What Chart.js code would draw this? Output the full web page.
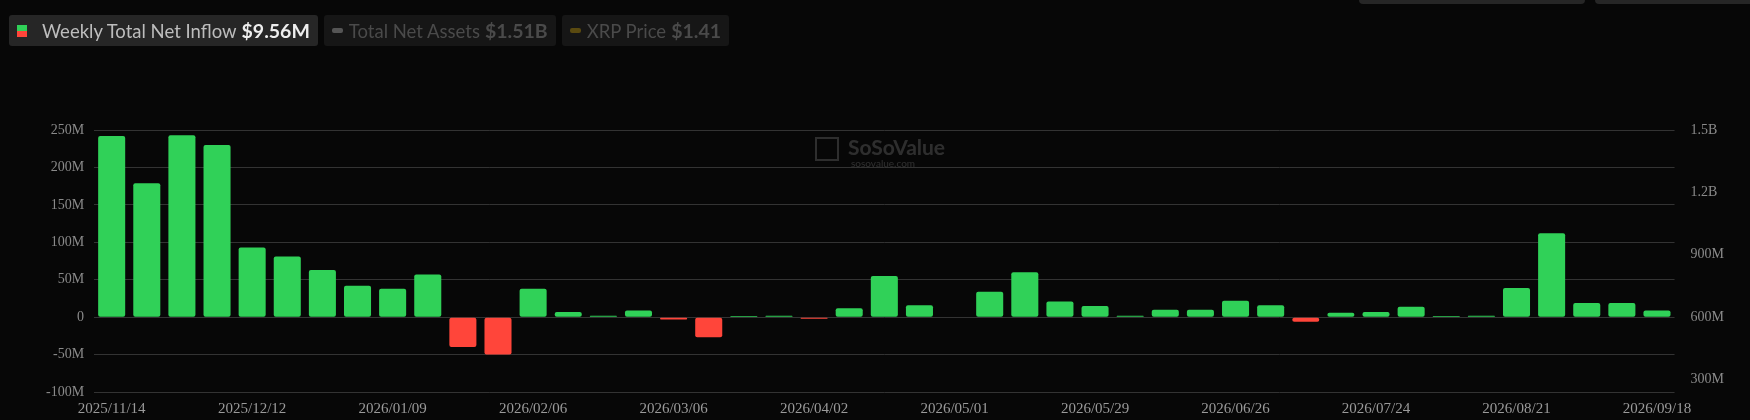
<!DOCTYPE html>
<html>
<head>
<meta charset="utf-8">
<script src="https://cdn.jsdelivr.net/npm/chart.js@4"></script>
<style>
  body { margin:0; background:#070707; width:1750px; height:420px; overflow:hidden; font-family:Lato, sans-serif; }
  #legend { position:absolute; top:15px; left:9px; display:flex; gap:6px; z-index:2; }
  .item { background:#262626; border-radius:3px; height:31px; display:flex; align-items:center; padding:0 8px; font-size:18.5px; color:#bdbdbd; }
  .item.off { background:#161616; color:#4a4a4a; }
  .item b { margin-left:5px; font-size:19.5px; }
  .sw { width:10px; height:12px; margin-right:15px; }
  .dash { width:11px; height:5px; border-radius:2px; margin-right:6px; }
  .btn { position:absolute; top:-6px; height:10px; background:#262626; border-radius:4px; }
  #wrap { position:absolute; left:0; top:0; width:1750px; height:420px; }
</style>
</head>
<body>
<div class="btn" style="left:1359px;width:226px"></div>
<div class="btn" style="left:1595px;width:200px"></div>
<div id="legend">
  <div class="item"><div class="sw" style="background:linear-gradient(#30d158 50%,#ff453a 50%)"></div>Weekly Total Net Inflow<b style="color:#eee">$9.56M</b></div>
  <div class="item off"><div class="dash" style="background:#555"></div>Total Net Assets<b>$1.51B</b></div>
  <div class="item off"><div class="dash" style="background:#5a4a10"></div>XRP Price<b>$1.41</b></div>
</div>
<div id="wrap"><canvas id="c" width="1750" height="420"></canvas></div>
<script>
// weekly dates
const weeks = ['2025/11/14','2025/11/21','2025/11/28','2025/12/05','2025/12/12','2025/12/19','2025/12/26','2026/01/02','2026/01/09','2026/01/16',
  '2026/01/23','2026/01/30','2026/02/06','2026/02/13','2026/02/20','2026/02/27','2026/03/06','2026/03/13','2026/03/20','2026/03/27',
  '2026/04/02','2026/04/10','2026/04/17','2026/04/24','2026/05/01','2026/05/08','2026/05/15','2026/05/22','2026/05/29','2026/06/05',
  '2026/06/12','2026/06/19','2026/06/26','2026/07/03','2026/07/10','2026/07/17','2026/07/24','2026/07/31','2026/08/07','2026/08/14',
  '2026/08/21','2026/08/28','2026/09/04','2026/09/11','2026/09/18'];
// net inflow in millions USD
const netInflow = [242,179,243,230,93,81,63,42,38,57,
  -40,-50,38,7,2,9,-3,-27,1.5,2,
  -2,12,55,16,0,34,60,21,15,2,
  10,10,22,16,-6,6,7,14,1.5,2,
  39,112,19,19,9];
const leftTicks = [-100,-50,0,50,100,150,200,250];
const rightTicks = [300,600,900,1200,1500];

const fmtM = v => v === 0 ? '0' : v + 'M';
const fmtR = v => v >= 1000 ? (v/1000) + 'B' : v + 'M';

const watermark = {
  id: 'watermark',
  beforeDatasetsDraw(chart) {
    const c = chart.ctx;
    c.save();
    c.fillStyle = 'rgba(255,255,255,0.16)';
    c.font = 'bold 21px Lato';
    c.fillText('SoSoValue', 848, 155);
    c.font = '10px Lato';
    c.fillText('sosovalue.com', 851, 167);
    c.strokeStyle = 'rgba(255,255,255,0.16)';
    c.lineWidth = 2;
    c.strokeRect(816, 138, 22, 22);
    c.restore();
  }
};

new Chart(document.getElementById('c'), {
  type: 'bar',
  data: {
    labels: weeks,
    datasets: [{
      data: netInflow,
      backgroundColor: netInflow.map(v => v < 0 ? '#ff453a' : '#30d158'),
      borderRadius: 2,
      borderSkipped: false,
      categoryPercentage: 0.77,
      barPercentage: 1
    }]
  },
  options: {
    responsive: false,
    animation: false,
    devicePixelRatio: 1,
    layout: { padding: { top: 130, left: 36, right: 18, bottom: 2 } },
    plugins: { legend: { display: false }, tooltip: { enabled: false } },
    scales: {
      x: {
        grid: { display: false },
        border: { display: false },
        ticks: {
          color: '#9a9a9a', font: { family: 'Liberation Serif', size: 15 },
          maxRotation: 0, autoSkip: false, padding: 0,
          callback: (v, i) => i % 4 === 0 ? weeks[i] : ''
        }
      },
      y: {
        min: -100, max: 250,
        afterBuildTicks: s => { s.ticks = leftTicks.map(v => ({ value: v })); },
        grid: { color: '#333', drawTicks: false },
        border: { display: false },
        ticks: { color: '#8a8a8a', font: { family: 'Liberation Serif', size: 14 }, padding: 10, callback: fmtM }
      },
      y2: {
        display: true,
        position: 'right',
        min: 240, max: 1500,
        afterBuildTicks: s => { s.ticks = rightTicks.map(v => ({ value: v })); },
        grid: { display: false },
        border: { display: false },
        ticks: { color: '#8a8a8a', font: { family: 'Liberation Serif', size: 14 }, padding: 8, callback: fmtR }
      }
    }
  },
  plugins: [watermark]
});
</script>
</body>
</html>
